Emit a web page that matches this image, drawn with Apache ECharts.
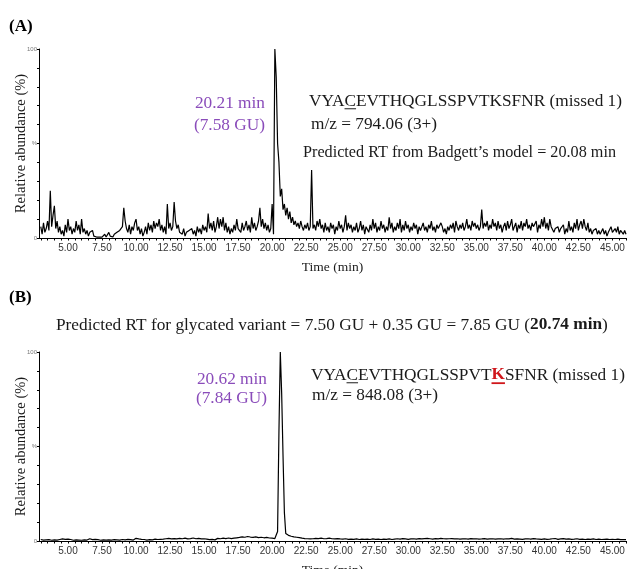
<!DOCTYPE html>
<html>
<head>
<meta charset="utf-8">
<script src="https://cdn.jsdelivr.net/npm/echarts@6/dist/echarts.min.js"></script>
<style>
html, body { margin: 0; padding: 0; background: #fff; }
#chart { width: 632px; height: 569px; }
</style>
</head>
<body>
<div id="chart"></div>
<script>
// chromatograms sampled every 0.1 min, first sample at 3.0 min
var timeStart = 3.0
var timeStep = 0.1

var xLabelValues = [5, 7.5, 10, 12.5, 15, 17.5, 20, 22.5, 25, 27.5, 30, 32.5, 35, 37.5, 40, 42.5, 45]

// (A) VYACEVTHQGLSSPVTKSFNR, m/z 794.06
var abundanceA = [
  6, 2, 8, 3, 5, 9, 4, 25, 6, 12,      // 3.0
  17, 5, 9, 3, 6, 2, 4, 1, 7, 3,       // 4.0
  10, 4, 6, 2, 5, 3, 9, 4, 7, 2,       // 5.0
  10, 3, 5, 2, 4, 1, 3, 2, 4, 1,       // 6.0
  2, 0.5, 1, 0.5, 1.5, 0.5, 1, 2, 0.5, 1, // 7.0
  3, 1, 2, 0.5, 2, 1, 3, 2, 4, 3,      // 8.0
  6, 16, 9, 5, 3, 7, 2, 6, 4, 8,       // 9.0
  10, 4, 6, 2, 5, 1, 3, 6, 2, 8,       // 10.0
  4, 7, 3, 9, 5, 8, 6, 10, 4, 7,       // 11.0
  3, 6, 2, 18, 5, 8, 4, 6, 19, 9,      // 12.0
  5, 7, 3, 4, 2, 5, 1, 3, 2, 4,        // 13.0
  3, 5, 2, 4, 1, 6, 3, 5, 2, 7,        // 14.0
  4, 6, 3, 13, 5, 8, 4, 9, 3, 6,       // 15.0
  11, 5, 10, 6, 11, 4, 8, 3, 6, 2,     // 16.0
  5, 3, 7, 4, 10, 5, 6, 3, 8, 4,       // 17.0
  6, 9, 4, 7, 3, 11, 5, 8, 4, 6,       // 18.0
  9, 16, 6, 10, 5, 8, 4, 7, 3, 5,      // 19.0
  18, 2, 100, 85, 50, 40, 22, 26, 15, 18, // 20.0
  12, 16, 10, 14, 8, 11, 7, 9, 6, 8,   // 21.0
  5, 9, 6, 4, 7, 5, 8, 4, 6, 36,       // 22.0
  5, 7, 4, 9, 6, 10, 5, 7, 3, 8,       // 23.0
  4, 6, 3, 8, 5, 7, 2, 6, 4, 9,        // 24.0
  5, 7, 3, 6, 12, 4, 8, 5, 7, 3,       // 25.0
  6, 4, 8, 3, 5, 9, 4, 7, 2, 6,        // 26.0
  5, 3, 7, 4, 10, 5, 8, 3, 6, 4,       // 27.0
  9, 5, 7, 3, 6, 4, 11, 5, 8, 3,       // 28.0
  6, 4, 8, 5, 10, 3, 7, 4, 9, 5,       // 29.0
  7, 3, 6, 4, 8, 5, 7, 2, 6, 4,        // 30.0
  5, 8, 4, 6, 3, 7, 5, 9, 4, 6,        // 31.0
  3, 7, 5, 4, 8, 6, 3, 5, 2, 6,        // 32.0
  4, 7, 5, 8, 3, 9, 6, 4, 7, 5,        // 33.0
  8, 4, 6, 10, 5, 7, 4, 9, 6, 8,       // 34.0
  5, 7, 4, 6, 15, 5, 8, 6, 9, 4,       // 35.0
  7, 5, 10, 6, 8, 4, 9, 5, 7, 3,       // 36.0
  6, 8, 4, 9, 5, 7, 10, 4, 6, 8,       // 37.0
  3, 7, 5, 9, 4, 8, 6, 10, 5, 7,       // 38.0
  4, 8, 6, 5, 9, 3, 7, 5, 10, 6,       // 39.0
  11, 5, 8, 4, 10, 6, 7, 3, 5, 4,      // 40.0
  6, 3, 5, 4, 7, 2, 5, 3, 9, 4,        // 41.0
  6, 3, 8, 5, 10, 4, 7, 9, 5, 10,      // 42.0
  6, 4, 8, 3, 5, 2, 4, 3, 5, 2,        // 43.0
  4, 2, 3, 5, 2, 4, 1, 3, 2, 6,        // 44.0
  3, 2, 5, 3, 6, 2, 4, 3, 2, 4,        // 45.0
  2                                    // 46.0
]

// (B) glycated variant, m/z 848.08
var abundanceB = [
  0.8, 1.2, 0.5, 1.0, 0.6, 1.3, 0.7, 0.9, 0.4, 1.1,  // 3.0
  0.6, 1.0, 0.5, 1.2, 0.8, 0.4, 1.1, 0.6, 0.9, 0.5,  // 4.0
  1.0, 0.5, 0.8, 1.2, 0.4, 0.9, 0.6, 1.1, 0.5, 0.8,  // 5.0
  0.4, 0.9, 0.6, 1.0, 0.5, 0.8, 1.2, 0.5, 0.7, 0.4,  // 6.0
  0.9, 0.5, 0.7, 1.1, 0.4, 0.8, 0.6, 1.0, 0.5, 0.9,  // 7.0
  0.6, 1.2, 0.5, 0.9, 0.7, 1.3, 0.6, 1.0, 0.5, 1.4,  // 8.0
  0.8, 1.5, 0.6, 1.1, 0.9, 1.6, 0.7, 1.2, 0.5, 1.0,  // 9.0
  1.4, 0.6, 1.1, 0.5, 0.9, 0.4, 0.8, 1.2, 0.5, 0.9,  // 10.0
  0.7, 1.1, 0.6, 1.6, 1.0, 1.4, 0.8, 1.2, 0.9, 1.3,  // 11.0
  1.0, 0.7, 1.2, 0.9, 1.4, 0.8, 1.1, 0.6, 1.3, 0.9,  // 12.0
  1.1, 0.7, 1.4, 0.9, 1.2, 0.6, 1.5, 0.8, 1.1, 0.7,  // 13.0
  1.3, 0.9, 1.6, 1.0, 1.2, 0.7, 1.4, 0.8, 1.1, 0.6,  // 14.0
  1.2, 0.8, 1.0, 1.4, 0.7, 1.1, 0.9, 1.3, 0.6, 1.0,  // 15.0
  1.4, 0.8, 1.2, 0.7, 1.5, 1.0, 1.3, 0.9, 1.6, 1.1,  // 16.0
  1.3, 0.9, 1.5, 1.1, 1.7, 1.2, 1.9, 1.4, 2.2, 1.6,  // 17.0
  2.0, 1.5, 2.4, 1.7, 2.1, 1.4, 1.9, 1.6, 2.2, 1.5,  // 18.0
  1.8, 1.3, 2.0, 1.5, 1.7, 1.2, 1.9, 1.4, 1.6, 1.1,  // 19.0
  1.5, 1.0, 1.3, 1.0, 5, 58, 100, 78, 45, 15,        // 20.0
  4, 3.5, 3, 3.5, 2.5, 3, 2.2, 2.6, 2.0, 2.4,        // 21.0
  1.8, 2.0, 1.5, 1.7, 1.3, 1.6, 1.2, 1.5, 1.1, 1.4,  // 22.0
  1.2, 0.9, 1.4, 1.0, 1.3, 0.8, 1.5, 1.1, 1.2, 0.9,  // 23.0
  1.3, 1.0, 1.5, 0.9, 1.2, 0.8, 1.1, 0.9, 1.3, 0.7,  // 24.0
  1.1, 0.7, 1.0, 0.6, 1.2, 0.8, 0.9, 0.5, 1.0, 0.7,  // 25.0
  0.9, 0.5, 1.1, 0.7, 0.8, 0.5, 1.0, 0.6, 0.9, 0.5,  // 26.0
  1.0, 0.6, 0.8, 0.5, 1.1, 0.7, 0.9, 0.5, 1.0, 0.6,  // 27.0
  0.8, 0.5, 1.0, 0.6, 0.9, 0.4, 1.1, 0.7, 0.8, 0.5,  // 28.0
  1.0, 0.6, 1.2, 0.7, 1.0, 0.8, 1.3, 0.7, 1.1, 0.6,  // 29.0
  0.9, 0.6, 1.1, 0.7, 1.2, 0.8, 1.0, 0.6, 1.3, 0.9,  // 30.0
  1.1, 0.7, 1.3, 0.9, 1.4, 0.8, 1.2, 0.7, 1.0, 0.8,  // 31.0
  1.3, 0.9, 1.1, 0.7, 1.4, 1.0, 1.2, 0.8, 1.1, 0.9,  // 32.0
  1.2, 0.8, 1.3, 0.9, 1.1, 0.7, 1.2, 0.8, 1.0, 0.6,  // 33.0
  1.1, 0.7, 1.2, 0.8, 1.0, 0.6, 1.3, 0.9, 1.1, 0.7,  // 34.0
  1.2, 0.8, 1.0, 0.6, 1.1, 0.7, 1.3, 0.8, 1.0, 0.7,  // 35.0
  1.1, 0.8, 1.2, 0.7, 1.0, 0.6, 1.1, 0.8, 1.2, 0.7,  // 36.0
  1.0, 0.6, 1.2, 0.8, 1.1, 0.7, 1.4, 0.9, 1.0, 0.6,  // 37.0
  1.1, 0.7, 1.0, 0.5, 0.9, 0.6, 1.1, 0.7, 1.2, 0.8,  // 38.0
  1.0, 0.6, 1.3, 0.8, 1.1, 0.7, 1.0, 0.6, 0.9, 0.5,  // 39.0
  1.1, 0.7, 0.9, 0.5, 1.0, 0.6, 1.2, 0.8, 1.3, 0.7,  // 40.0
  0.9, 0.5, 1.1, 0.7, 1.3, 0.8, 1.0, 0.6, 1.1, 0.7,  // 41.0
  0.9, 0.5, 1.0, 0.6, 1.2, 0.7, 0.9, 0.5, 1.0, 0.6,  // 42.0
  0.8, 0.5, 1.0, 0.6, 0.9, 0.4, 1.1, 0.6, 0.8, 0.5,  // 43.0
  1.0, 0.6, 0.8, 0.4, 0.9, 0.5, 1.0, 0.6, 0.8, 0.5,  // 44.0
  0.9, 0.5, 0.8, 0.6, 1.0, 0.5, 0.7, 0.4, 0.8, 0.5,  // 45.0
  0.7                                                // 46.0
]

var serif = '"Liberation Serif", "Times New Roman", serif'
var sans = '"Liberation Sans", Arial, sans-serif'
var purple = '#8a4cba'
var ink = '#1a1a1a'

function toPairs(values) {
  return values.map(function (v, i) {
    return [+(timeStart + i * timeStep).toFixed(1), v]
  })
}

// small ticks every 0.5 min along the time axis
var tickValues = []
for (var t = 3; t <= 46; t += 0.5) tickValues.push(t)

var measureCtx = document.createElement('canvas').getContext('2d')
function fontOf(size, bold) {
  return (bold ? 'bold ' : '') + size + 'px ' + serif
}
function widthOf(str, size, bold) {
  measureCtx.font = fontOf(size, bold)
  return measureCtx.measureText(str).width
}

// text made of pieces, some of them bold / coloured / underlined
function textRun(x, y, size, pieces) {
  var out = []
  var cx = x
  pieces.forEach(function (p) {
    var w = widthOf(p.text, size, p.bold)
    out.push({
      type: 'text', x: cx, y: y,
      style: {
        text: p.text, font: fontOf(size, p.bold), fill: p.color || ink,
        align: 'left', verticalAlign: 'middle', textAlign: 'left', textVerticalAlign: 'middle'
      }
    })
    if (p.underline) {
      out.push({
        type: 'rect',
        shape: { x: cx, y: y + size * 0.42, width: w, height: p.bold ? 1.8 : 1 },
        style: { fill: p.color || ink }
      })
    }
    cx += w
  })
  return out
}

function label(x, y, str, size, color, align, bold) {
  return {
    type: 'text', x: x, y: y,
    style: {
      text: str, font: fontOf(size, bold), fill: color || ink,
      align: align || 'left', verticalAlign: 'middle',
      textAlign: align || 'left', textVerticalAlign: 'middle'
    }
  }
}

var big = 17.3

var graphics = [].concat(
  [label(9, 27, '(A)', 17, '#000', 'left', true)],
  [label(265, 103, '20.21 min', big, purple, 'right')],
  [label(265, 125, '(7.58 GU)', big, purple, 'right')],
  textRun(309, 101, big, [
    { text: 'VYA' }, { text: 'C', underline: true }, { text: 'EVTHQGLSSPVTKSFNR (missed 1)' }
  ]),
  [label(311, 124, 'm/z = 794.06 (3+)', big)],
  [label(303, 153, 'Predicted RT from Badgett\u2019s model = 20.08 min', 16.2)],

  [label(9, 298, '(B)', 17, '#000', 'left', true)],
  textRun(56, 325, big, [
    { text: 'Predicted RT for glycated variant = 7.50 GU + 0.35 GU = 7.85 GU (' },
    { text: '20.74 min', bold: true },
    { text: ')' }
  ]),
  [label(267, 379, '20.62 min', big, purple, 'right')],
  [label(267, 398, '(7.84 GU)', big, purple, 'right')],
  textRun(311, 375, big, [
    { text: 'VYA' }, { text: 'C', underline: true }, { text: 'EVTHQGLSSPVT' },
    { text: 'K', bold: true, color: '#d0161b', underline: true },
    { text: 'SFNR (missed 1)' }
  ]),
  [label(312, 395, 'm/z = 848.08 (3+)', big)]
)

function xAxisFor(i) {
  return {
    type: 'value', gridIndex: i, min: 2.87, max: 46,
    name: 'Time (min)', nameLocation: 'middle', nameGap: 22, nameMoveOverlap: false,
    nameTextStyle: { fontFamily: serif, fontSize: 13.5, color: ink },
    axisLine: { lineStyle: { color: '#000', width: 1 } },
    axisTick: { show: true, length: 2.5, customValues: tickValues, lineStyle: { color: '#000' } },
    axisLabel: {
      customValues: xLabelValues, fontFamily: sans, fontSize: 10, color: '#333', margin: 5,
      formatter: function (v) { return v.toFixed(2) }
    },
    splitLine: { show: false }
  }
}

function yAxisFor(i) {
  return {
    type: 'value', gridIndex: i, min: 0, max: 100, interval: 10,
    name: 'Relative abundance (%)', nameLocation: 'middle', nameGap: 10, nameMoveOverlap: false,
    nameTextStyle: { fontFamily: serif, fontSize: 14.5, color: ink },
    axisLine: { show: true, lineStyle: { color: '#000', width: 1 } },
    axisTick: { show: true, length: 2, lineStyle: { color: '#000' } },
    axisLabel: {
      fontFamily: sans, fontSize: 6, color: '#777', margin: 2,
      formatter: function (v) { return v === 100 ? '100' : v === 50 ? '%' : v === 0 ? '0' : '' }
    },
    splitLine: { show: false }
  }
}

function traceFor(i, values) {
  return {
    type: 'line', xAxisIndex: i, yAxisIndex: i,
    data: toPairs(values), showSymbol: false, symbol: 'none',
    lineStyle: { color: '#000', width: 1.2 },
    sampling: null, animation: false
  }
}

var chart = echarts.init(document.getElementById('chart'))
chart.setOption({
  animation: false,
  backgroundColor: '#fff',
  grid: [
    { left: 39, right: 6, top: 49, height: 189, outerBoundsMode: 'none', containLabel: false },
    { left: 39, right: 6, top: 352, height: 189, outerBoundsMode: 'none', containLabel: false }
  ],
  xAxis: [xAxisFor(0), xAxisFor(1)],
  yAxis: [yAxisFor(0), yAxisFor(1)],
  series: [traceFor(0, abundanceA), traceFor(1, abundanceB)],
  graphic: graphics
})
</script>
</body>
</html>
